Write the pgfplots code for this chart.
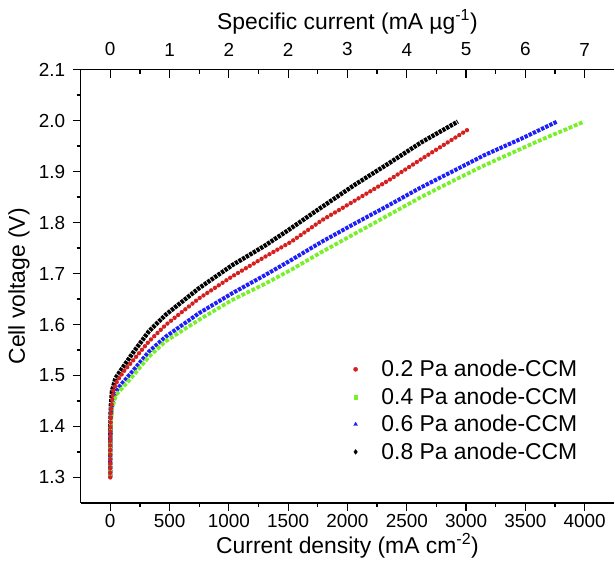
\documentclass[border=0pt]{standalone}
\usepackage{fontspec}
\setmainfont{Liberation Sans}
\usepackage{pgfplots}
\pgfplotsset{compat=1.18}

\definecolor{cred}{RGB}{214,32,32}
\definecolor{cgreen}{RGB}{120,240,40}
\definecolor{cblue}{RGB}{30,30,250}

\pgfplotsset{
  basestyle/.style={
    scale only axis, width=536.6pt, height=435.6pt,
    xmin=-250, xmax=4250, ymin=1.25, ymax=2.1,
    /pgf/number format/assume math mode=true,
    axis line style={line width=1.3pt, -},
    major tick length=8pt, minor tick length=4pt,
    every tick/.style={line width=1.3pt, black},
    tick label style={font=\fontsize{19}{22}\selectfont},
    label style={font=\fontsize{23}{26}\selectfont},
  },
}

\begin{document}
\begin{tikzpicture}
\begin{axis}[basestyle,
    axis x line*=bottom, axis y line*=left, tick align=outside,
    xtick={0,500,...,4000}, minor x tick num=1,
    ytick={1.3,1.4,...,2.11}, minor y tick num=1,
    scaled x ticks=false,
    xticklabel style={/pgf/number format/set thousands separator={}},
    yticklabel style={xshift=-4pt, /pgf/number format/fixed, /pgf/number format/fixed zerofill,
      /pgf/number format/precision=1},
    xlabel={Current density (mA cm\textsuperscript{-2})},
    ylabel={Cell voltage (V)},
    xlabel style={at={(rel axis cs:0.5,0)}, anchor=center, yshift=-43pt},
    ylabel style={at={(rel axis cs:0,0.5)}, anchor=center, yshift=62pt},
    reverse legend,
    legend cell align=left,
    legend style={at={(axis cs:2000,1.538)}, anchor=north west, draw=none, fill=none,
      font=\fontsize{23}{26}\selectfont, row sep=5.5pt},
  ]
% 0.8 Pa
\addplot[black, line width=4.4pt, dash pattern=on 3.2pt off 1pt,
  legend image code/.code={\path[draw=none, fill=none] (0,0) -- (29pt,0);
    \draw[black, fill=black, solid, line width=0.4pt] plot[mark=diamond*, only marks, mark size=2.4pt] coordinates {(5pt,0pt)};}]
 coordinates {
 (0,1.300) (0,1.350) (1,1.400) (5,1.440) (15,1.470) (45,1.495) (104,1.515)
 (187,1.543) (327,1.587) (467,1.619) (747,1.671) (1026,1.716) (1306,1.755)
 (1500,1.785) (1781,1.830) (2061,1.874) (2341,1.915) (2620,1.957) (2930,1.998)};
\addlegendentry{0.8 Pa anode-CCM}
% 0.6 Pa
\addplot[cblue, line width=4pt, dash pattern=on 3.4pt off 1.2pt,
  legend image code/.code={\path[draw=none, fill=none] (0,0) -- (29pt,0);
    \draw[cblue, fill=cblue, solid, line width=0.4pt] plot[mark=triangle*, only marks, mark size=2.2pt] coordinates {(5pt,0pt)};}]
 coordinates {
 (0,1.300) (0,1.350) (3,1.400) (12,1.435) (40,1.465) (76,1.478) (187,1.508)
 (327,1.547) (467,1.576) (747,1.622) (1026,1.661) (1306,1.697) (1530,1.727)
 (1781,1.762) (2061,1.798) (2341,1.833) (2620,1.869) (2900,1.902) (3152,1.932)
 (3470,1.965) (3767,1.998)};
\addlegendentry{0.6 Pa anode-CCM}
% 0.4 Pa
\addplot[cgreen, line width=3.8pt, dash pattern=on 3.8pt off 1.8pt,
  legend image code/.code={\path[draw=none, fill=none] (0,0) -- (29pt,0);
    \draw[cgreen, fill=cgreen, solid, line width=0.4pt] plot[mark=square*, only marks, mark size=1.9pt] coordinates {(5pt,0pt)};}]
 coordinates {
 (0,1.300) (0,1.350) (4,1.400) (15,1.435) (50,1.462) (104,1.476) (187,1.498)
 (327,1.537) (467,1.567) (747,1.609) (1026,1.648) (1306,1.680) (1530,1.708)
 (1781,1.742) (2061,1.778) (2341,1.814) (2620,1.850) (2900,1.883) (3152,1.912)
 (3580,1.957) (3995,1.998)};
\addlegendentry{0.4 Pa anode-CCM}
% 0.2 Pa
\addplot[cred, line width=4.4pt, line cap=round, dash pattern=on 0pt off 4.6pt,
  legend image code/.code={\path[draw=none, fill=none] (0,0) -- (29pt,0);
    \draw[cred, fill=cred, solid, line width=0.4pt] plot[mark=*, only marks, mark size=2.1pt] coordinates {(5pt,0pt)};}]
 coordinates {
 (0,1.300) (0,1.350) (2,1.400) (8,1.435) (25,1.470) (60,1.490) (120,1.510)
 (187,1.528) (327,1.567) (467,1.599) (747,1.651) (1026,1.694) (1306,1.733)
 (1530,1.763) (1781,1.804) (2061,1.843) (2341,1.882) (2620,1.924) (3040,1.986)};
\addlegendentry{0.2 Pa anode-CCM}
\end{axis}
\begin{axis}[basestyle,
    axis x line*=top, axis y line=none, tick align=inside,
    xtick={0,500,...,4000}, minor x tick num=1,
    xticklabels={0,1,2,2,3,4,5,6,7},
    xticklabel style={yshift=10pt},
    xlabel={Specific current (mA µg\textsuperscript{-1})},
    xlabel style={at={(rel axis cs:0.5,1)}, anchor=center, yshift=48pt},
  ]
\end{axis}
\path ([shift={(-81pt,-68.4pt)}]current axis.south west)
  rectangle ([shift={(-2.8pt,70pt)}]current axis.north east);
\end{tikzpicture}
\end{document}
